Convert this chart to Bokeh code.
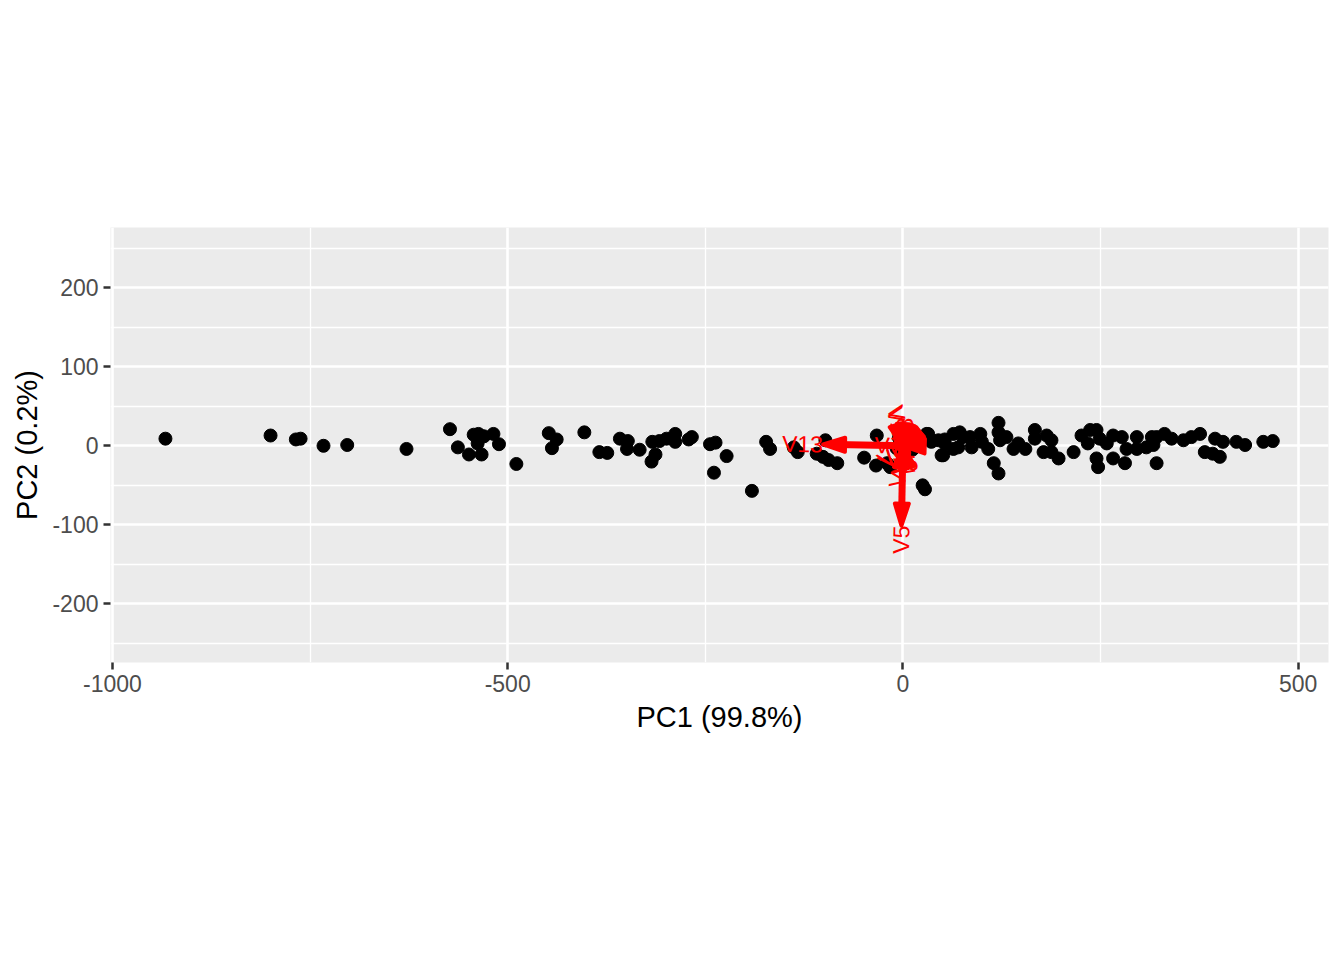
import math
from bokeh.plotting import figure
from bokeh.models import Range1d, FixedTicker, ColumnDataSource
from bokeh.core.properties import value
from bokeh.embed import file_html
from bokeh.resources import INLINE

# ---- scores (PC1, PC2) ----
pc1 = [-933, -800, -768, -762, -733, -703, -628, -573, -563, -549, -543, -537, -530, -538,
       -533, -518, -511, -489, -448, -438, -444, -403, -384, -374, -358, -348, -349, -333,
       -317, -313, -318, -308, -299, -288, -288, -271, -267, -244, -237, -223, -239, -191,
       -173, -168, -138, -133, -98, -109, -101, -94, -83, -49, -34, -33, -16, -20, 25, 28,
       5, 10, -5, 15, 0, 8, 12, -8, 18,
       30, 45, 53, 49, 32, 36, 51, 53, 64, 72, 76, 64, 70, 85, 87, 98, 100, 108, 121, 121,
       123, 115, 121, 131, 140, 146, 155, 167, 167, 182, 188, 178, 188, 197, 216, 226, 237,
       245, 234, 249, 258, 245, 247, 266, 266, 277, 281, 283, 296, 296, 308, 315, 321, 317,
       321, 331, 340, 355, 365, 376, 382, 395, 405, 401, 392, 422, 433, 456, 468]
pc2 = [9, 13, 8, 9, 0, 1, -4, 21, -2, -11, 14, 15, 12, 3,
       -11, 15, 2, -23, 16, 8, -3, 17, -8, -9, 9, 6, -4, -5,
       5, -11, -20, 6, 9, 15, 5, 8, 11, 2, 4, -13, -34, -57,
       5, -4, -2, -8, 7, -10, -14, -18, -22, -15, -25, 13, -27, -22, -50, -55,
       5, 0, 10, 8, -5, 12, -5, -3, 3,
       15, 7, 3, -12, 15, 5, -12, 8, 15, 17, 11, -4, -2, 11, -2, 15, 5, -4, 29, 17,
       7, -22, -35, 11, -4, 3, -4, 20, 9, 13, 7, -8, -8, -16, -8, 13, 20,
       20, 3, 9, 3, -16, -27, 13, -16, 11, -22, -4, 11, -4, -2, 11, 11, 1,
       -22, 15, 9, 7, 11, 15, -8, 9, 5, -14, -10, 5, 1, 5, 6]

# ---- variable loadings ----
var_names = ["V1", "V2", "V3", "V4", "V5", "V6", "V7", "V8", "V9", "V10", "V11", "V12", "V13"]
load_pc1 = [-0.00166, 0.00068, -0.00019, 0.00467, -0.01787, -0.00099, -0.00157, 0.00012,
            -0.00060, -0.00233, -0.00017, -0.00070, -0.99982]
load_pc2 = [-0.00120, -0.00216, -0.00459, -0.02645, -0.99934, -0.00088, 0.00005, 0.00135,
            -0.00500, -0.01510, 0.00076, 0.00350, 0.01777]
arrow_scale = 101.0

x_ticks = [-1000, -500, 0, 500]
x_tick_labels = ["-1000", "-500", "0", "500"]
x_minor = [-750, -250, 250]
y_ticks = [-200, -100, 0, 100, 200]
y_tick_labels = ["-200", "-100", "0", "100", "200"]
y_minor = [-250, -150, -50, 50, 150, 250]

x_lo, x_hi = -1002.5, 538.5
y_lo, y_hi = -274.0, 276.0
FW, FH = 1218, 435
px_per_unit = FW / (x_hi - x_lo)

FONT = "Liberation Sans"

p = figure(frame_width=FW, frame_height=FH,
           x_range=Range1d(x_lo, x_hi), y_range=Range1d(y_lo, y_hi),
           output_backend="svg", toolbar_location=None,
           min_border_left=110, min_border_top=227, min_border_right=16, min_border_bottom=290)

p.background_fill_color = "#EBEBEB"
p.border_fill_color = "white"
p.outline_line_color = None

for ax, ticks, minor, labels, title in [
    (p.xaxis[0], x_ticks, x_minor, x_tick_labels, "PC1 (99.8%)"),
    (p.yaxis[0], y_ticks, y_minor, y_tick_labels, "PC2 (0.2%)"),
]:
    ax.ticker = FixedTicker(ticks=ticks, minor_ticks=minor)
    ax.major_label_overrides = {t: s for t, s in zip(ticks, labels)}
    ax.axis_line_color = None
    ax.major_tick_line_color = "#333333"
    ax.major_tick_line_width = 2.5
    ax.major_tick_out = 7
    ax.major_tick_in = 0
    ax.minor_tick_line_color = None
    ax.major_label_text_font = FONT
    ax.major_label_text_font_size = "23px"
    ax.major_label_text_color = "#4D4D4D"
    ax.major_label_standoff = 5
    ax.axis_label = title
    ax.axis_label_text_font = FONT
    ax.axis_label_text_font_size = "29px"
    ax.axis_label_text_font_style = "normal"
    ax.axis_label_text_color = "black"
    ax.axis_label_standoff = 6

for g in (p.xgrid[0], p.ygrid[0]):
    g.grid_line_color = "white"
    g.grid_line_width = 2.6
    g.minor_grid_line_color = "white"
    g.minor_grid_line_width = 1.3

# points
p.scatter(pc1, pc2, size=13, color="black")

# arrows
head_len = 22.0 / px_per_unit
head_half = 7.0 / px_per_unit
sx0, sy0, sx1, sy1 = [], [], [], []
hxs, hys = [], []
lab_l = dict(x=[], y=[], text=[], angle=[])
lab_r = dict(x=[], y=[], text=[], angle=[])
for name, a, b in zip(var_names, load_pc1, load_pc2):
    tx, ty = a * arrow_scale, b * arrow_scale
    n = math.hypot(tx, ty)
    dx, dy = tx / n, ty / n
    bx, by = tx - head_len * dx, ty - head_len * dy
    mx, my = tx - 0.6 * head_len * dx, ty - 0.6 * head_len * dy
    sx0.append(0.0); sy0.append(0.0); sx1.append(mx); sy1.append(my)
    hxs.append([tx, bx - head_half * dy, bx + head_half * dy])
    hys.append([ty, by + head_half * dx, by - head_half * dx])
    ang = math.atan(b / a)
    d = lab_r if a < 0 else lab_l
    d["x"].append(tx); d["y"].append(ty); d["text"].append(name); d["angle"].append(ang)

p.segment(sx0, sy0, sx1, sy1, line_color="#FF0000", line_width=7)
p.patches(hxs, hys, fill_color="#FF0000", line_color="#FF0000", line_width=4, line_join="round")

for d, al in ((lab_l, "left"), (lab_r, "right")):
    p.text(x="x", y="y", text="text", angle="angle", source=ColumnDataSource(d),
           text_align=al, text_baseline="middle", text_color="#FF0000",
           text_font=value(FONT), text_font_size="23px")

open("out.html", "w").write(file_html(p, INLINE))
